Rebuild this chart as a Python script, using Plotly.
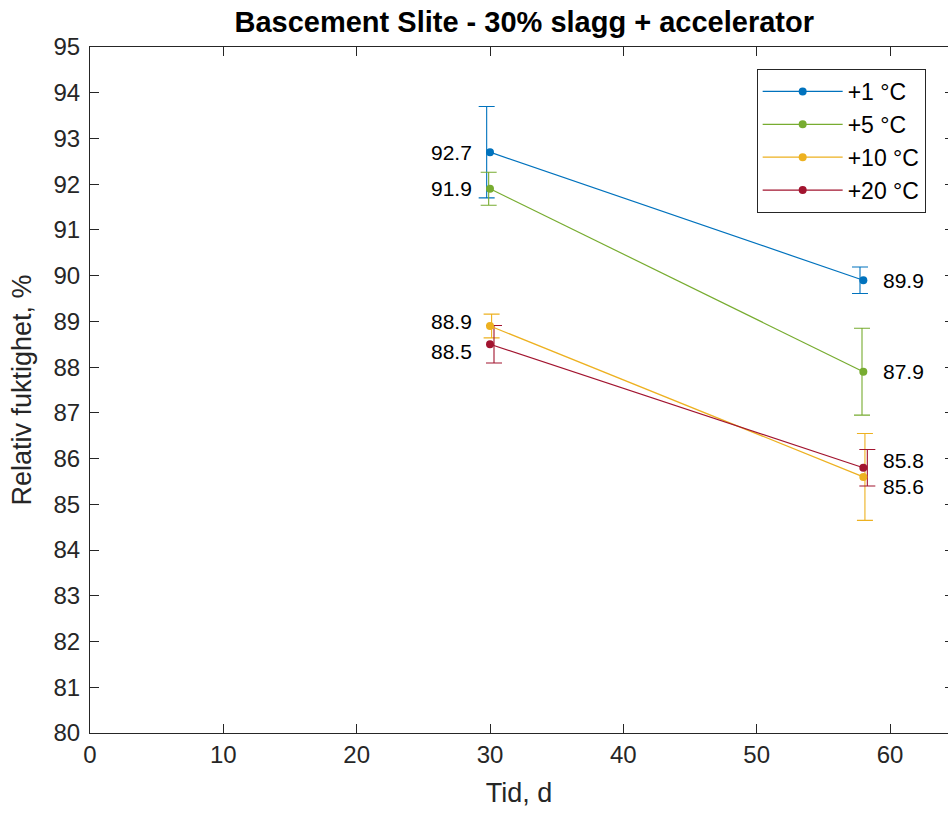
import plotly.graph_objects as go

days = [30, 58]
series_names = ["+1 °C", "+5 °C", "+10 °C", "+20 °C"]
rh_values = [
    [92.7, 89.9],
    [91.9, 87.9],
    [88.9, 85.6],
    [88.5, 85.8],
]
rh_errors = [
    [1.0, 0.29],
    [0.36, 0.95],
    [0.26, 0.95],
    [0.41, 0.40],
]
x_ticks = [0, 10, 20, 30, 40, 50, 60]
y_ticks = list(range(80, 96))

colors = ["#0072BD", "#77AC30", "#EDB120", "#A2142F"]
err_offsets = [-0.25, -0.1, 0.12, 0.3]
label_yshift = [[0, 0], [0, 0], [4, -10], [-7, 7]]

fig = go.Figure()
for name, vals, errs, col, off in zip(series_names, rh_values, rh_errors, colors, err_offsets):
    fig.add_trace(go.Scatter(
        x=[d + off for d in days], y=vals, mode="markers",
        marker=dict(size=1, color=col, opacity=0),
        error_y=dict(type="data", array=errs, visible=True, color=col, thickness=1.1, width=8),
        showlegend=False, hoverinfo="skip"))

for name, vals, col in zip(series_names, rh_values, colors):
    fig.add_trace(go.Scatter(
        x=days, y=vals, mode="lines+markers", name=name,
        line=dict(color=col, width=1.2),
        marker=dict(color=col, size=8)))

for vals, shifts in zip(rh_values, label_yshift):
    for i, (d, v) in enumerate(zip(days, vals)):
        left = i == 0
        fig.add_annotation(
            x=d, y=v, text=f"{v:.1f}", showarrow=False,
            xanchor="right" if left else "left",
            xshift=-16 if left else 18, yshift=shifts[i],
            font=dict(size=21, color="black", family="Liberation Sans, Arial"))

axis_col = "#262626"
fig.update_layout(
    width=948, height=815,
    margin=dict(l=90, r=0, t=47, b=82),
    paper_bgcolor="white", plot_bgcolor="white",
    font=dict(family="Liberation Sans, Arial", color=axis_col),
    title=dict(text="<b>Bascement Slite - 30% slagg + accelerator</b>",
               x=0.553, xref="container", xanchor="center",
               y=0.973, yref="container", yanchor="middle",
               font=dict(size=29, color="black")),
    xaxis=dict(range=[0, 64.35], tickvals=x_ticks, ticks="inside", ticklen=9,
               tickcolor=axis_col, showline=True, linecolor=axis_col, linewidth=1.2,
               mirror="ticks", showgrid=False, zeroline=False,
               tickfont=dict(size=24, color=axis_col),
               title=dict(text="Tid, d", font=dict(size=27, color=axis_col), standoff=16)),
    yaxis=dict(range=[80, 95], tickvals=y_ticks, ticks="inside", ticklen=9,
               tickcolor=axis_col, showline=True, linecolor=axis_col, linewidth=1.2,
               mirror=False, showgrid=False, zeroline=False, ticklabelstandoff=4,
               tickfont=dict(size=24, color=axis_col),
               title=dict(text="Relativ fuktighet, %", font=dict(size=27, color=axis_col), standoff=13)),
    yaxis2=dict(range=[80, 95], tickvals=y_ticks, ticks="inside", ticklen=3,
                tickcolor=axis_col, overlaying="y", anchor="free", position=1, side="right",
                showticklabels=False, showline=False, showgrid=False, zeroline=False),
    legend=dict(x=0.777, y=0.968, xanchor="left", yanchor="top",
                bordercolor=axis_col, borderwidth=1, bgcolor="white",
                font=dict(size=23, color="black"), itemwidth=80, tracegroupgap=0),
    showlegend=True,
)
fig.add_trace(go.Scatter(x=[None], y=[None], yaxis="y2", showlegend=False, hoverinfo="skip"))

fig.write_html("out.html")
